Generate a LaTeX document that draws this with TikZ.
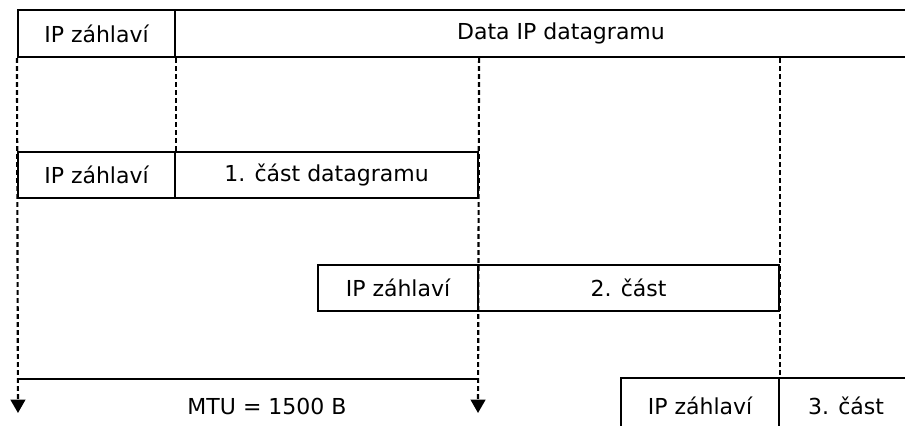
\documentclass[tikz,border=0pt]{standalone}
\usepackage{fontspec}
\setmainfont{DejaVu Sans}
\usetikzlibrary{arrows.meta}
\begin{document}
\begin{tikzpicture}[x=0.75pt,y=-0.75pt,
  cell/.style={draw,line width=1.6pt,inner sep=0pt,font=\fontsize{16.5}{20}\selectfont},
  guide/.style={line width=1.6pt,dash pattern=on 3.6pt off 2.4pt},
  tip/.style={-{Triangle[width=11pt,length=10pt]}},
  lbl/.style={inner sep=0pt,font=\fontsize{16.5}{20}\selectfont}]
\useasboundingbox (0,0) rectangle (905,425);
% top datagram
\node[cell,minimum width=117.75pt,minimum height=35.25pt] (h1) at (96.5,33.5) {IP záhlaví};
\node[cell,minimum width=579pt,minimum height=35.25pt] (d1) at (561,33.5) {Data IP datagramu};
% fragment 1
\node[cell,minimum width=117.75pt,minimum height=34.5pt] (h2) at (96.5,175) {IP záhlaví};
\node[cell,minimum width=227.25pt,minimum height=34.5pt] (p1) at (326.5,175) {1. část datagramu};
% fragment 2
\node[cell,minimum width=120pt,minimum height=34.5pt] (h3) at (398,288) {IP záhlaví};
\node[cell,minimum width=225.75pt,minimum height=34.5pt] (p2) at (628.5,288) {2. část};
% fragment 3
\node[cell,minimum width=118.5pt,minimum height=42pt] (h4) at (700,406) {IP záhlaví};
\node[cell,minimum width=100.5pt,minimum height=42pt] (p3) at (846,406) {3. část};
% guides
\coordinate (a1) at (18,413);
\coordinate (a2) at (478,413);
\coordinate (m1) at (18,379);
\coordinate (m2) at (478,379);
\draw[guide,tip] (h1.south west) -- (a1);
\draw[guide] (h1.south east) -- (h2.north east);
\draw[guide,tip] (p1.north east |- h1.south) -- (a2);
\draw[guide] (p2.north east |- h1.south) -- (h4.north east);
\draw[line width=1.6pt] (m1) -- (m2);
\node[lbl] (mtu) at (267,406) {MTU = 1500 B};
\end{tikzpicture}
\end{document}
